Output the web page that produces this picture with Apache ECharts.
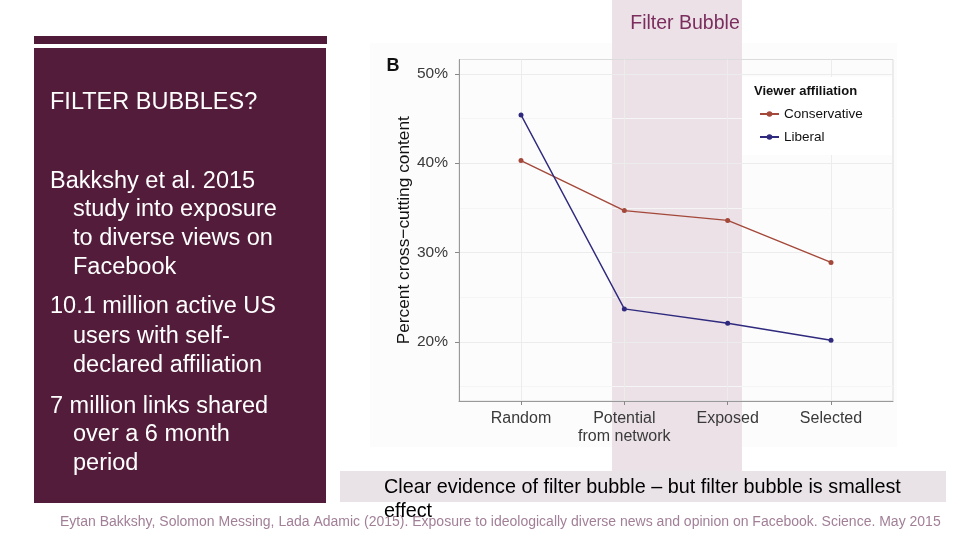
<!DOCTYPE html>
<html>
<head>
<meta charset="utf-8">
<title>Filter Bubble</title>
<script src="https://cdn.jsdelivr.net/npm/echarts@6/dist/echarts.min.js"></script>
<style>
  html, body { margin: 0; padding: 0; background: #fff; }
  #main { width: 960px; height: 540px; }
</style>
</head>
<body>
<div id="main"></div>
<script>
// categories along the x axis (ggplot panel, discrete positions 1..4)
var stages = ['Random', 'Potential\nfrom network', 'Exposed', 'Selected'];
// percent cross-cutting content
var conservative = [40.3, 34.7, 33.6, 28.9];
var liberal = [45.4, 23.7, 22.1, 20.2];
var yTicks = [20, 30, 40, 50];
var yMinor = [15, 25, 35, 45];
var xTicks = [1, 2, 3, 4];

var leftLines = [
  ['FILTER BUBBLES?', 0],
  ['Bakkshy et al. 2015', 0], ['study into exposure', 1], ['to diverse views on', 1], ['Facebook', 1],
  ['10.1 million active US', 0], ['users with self-', 1], ['declared affiliation', 1],
  ['7 million links shared', 0], ['over a 6 month', 1], ['period', 1]
];
var leftY = [103, 182, 210, 239, 268, 307, 337, 366, 407, 435, 464];

var FONT = '"Liberation Sans", Arial, Helvetica, sans-serif';

function pts(arr) {
  return arr.map(function (v, i) { return [i + 1, v]; });
}

var myChart = echarts.init(document.getElementById('main'));

var graphics = [
  // chart picture background
  {type: 'rect', z: -3, shape: {x: 370, y: 43, width: 527, height: 404}, style: {fill: '#fcfcfc'}},
  // filter bubble band
  {type: 'rect', z: -1, shape: {x: 612, y: 0, width: 130, height: 471}, style: {fill: '#ebe1e7'}},
  {type: 'text', z: 5, x: 685, y: 24, style: {text: 'Filter Bubble', font: '19.5px ' + FONT, fill: '#7b2d5e', align: 'center', verticalAlign: 'middle'}},
  // left panel
  {type: 'rect', shape: {x: 34, y: 36, width: 293, height: 8}, style: {fill: '#501b39'}},
  {type: 'rect', shape: {x: 34, y: 48, width: 292, height: 455}, style: {fill: '#521c3a'}},
  // caption box
  {type: 'rect', z: 3, shape: {x: 340, y: 471, width: 606, height: 31}, style: {fill: '#e9e2e7'}},
  {type: 'text', z: 5, x: 384, y: 488, style: {text: 'Clear evidence of filter bubble \u2013 but filter bubble is smallest', font: '19.8px ' + FONT, fill: '#000', verticalAlign: 'middle'}},
  {type: 'text', z: 5, x: 384, y: 512, style: {text: 'effect', font: '19.8px ' + FONT, fill: '#000', verticalAlign: 'middle'}},
  // citation
  {type: 'text', z: 4, x: 60, y: 522, style: {text: 'Eytan Bakkshy, Solomon Messing, Lada Adamic (2015). Exposure to ideologically diverse news and opinion on Facebook. Science. May 2015', font: '14px ' + FONT, fill: '#a17f97', verticalAlign: 'middle'}},
  // panel letter
  {type: 'text', z: 5, x: 393, y: 66, style: {text: 'B', font: 'bold 18px ' + FONT, fill: '#111', align: 'center', verticalAlign: 'middle'}},
  // legend box + title
  {type: 'rect', z: 1, shape: {x: 742, y: 77, width: 150, height: 78}, style: {fill: '#fff'}},
  {type: 'text', z: 5, x: 754, y: 91, style: {text: 'Viewer affiliation', font: 'bold 13px ' + FONT, fill: '#111', verticalAlign: 'middle'}}
];

leftLines.forEach(function (l, i) {
  graphics.push({type: 'text', z: 5, x: l[1] ? 73 : 50, y: leftY[i],
    style: {text: l[0], font: '23.5px ' + FONT, fill: '#fff', verticalAlign: 'middle'}});
});

var option = {
  animation: false,
  textStyle: {fontFamily: FONT},
  graphic: graphics,
  grid: {
    left: 459, top: 59.5, width: 434, height: 341.5,
    show: true, borderColor: '#dcdcdc', borderWidth: 1, backgroundColor: 'transparent'
  },
  legend: {
    orient: 'vertical', left: 754, top: 102, itemGap: 9,
    itemWidth: 19, itemHeight: 7,
    textStyle: {fontSize: 13.5, color: '#111', fontFamily: FONT},
    data: ['Conservative', 'Liberal']
  },
  xAxis: {
    type: 'value', min: 0.4, max: 4.6,
    axisLine: {show: true, lineStyle: {color: '#999', width: 1}},
    axisTick: {show: true, length: 4, lineStyle: {color: '#888'}, customValues: xTicks},
    axisLabel: {
      customValues: xTicks, margin: 9, fontSize: 16, color: '#3a3a3a', lineHeight: 18,
      formatter: function (v) { return stages[Math.round(v) - 1]; }
    },
    splitLine: {show: true, lineStyle: {color: '#ececec', width: 1}}
  },
  yAxis: [{
    type: 'value', min: 13.4, max: 51.6,
    name: 'Percent cross\u2212cutting content', nameLocation: 'middle', nameGap: 44,
    nameRotate: 90, nameTextStyle: {fontSize: 17.3, color: '#111'},
    axisLine: {show: true, lineStyle: {color: '#999', width: 1}},
    axisTick: {show: true, length: 4, lineStyle: {color: '#888'}, customValues: yTicks},
    axisLabel: {customValues: yTicks, margin: 11, fontSize: 15.5, color: '#3a3a3a',
      formatter: function (v) { return v + '%'; }},
    splitLine: {show: true, lineStyle: {color: '#ececec', width: 1}}
  }, {
    type: 'value', min: 13.4, max: 51.6, position: 'left',
    axisLine: {show: false}, axisLabel: {show: false},
    axisTick: {show: false, customValues: yMinor},
    splitLine: {show: true, lineStyle: {color: '#f5f5f5', width: 1}}
  }],
  series: [{
    name: 'Conservative', type: 'line', data: pts(conservative),
    symbol: 'circle', symbolSize: 5,
    itemStyle: {color: '#a4483a'}, lineStyle: {color: '#a4483a', width: 1.4}
  }, {
    name: 'Liberal', type: 'line', data: pts(liberal),
    symbol: 'circle', symbolSize: 5,
    itemStyle: {color: '#2f2a7e'}, lineStyle: {color: '#2f2a7e', width: 1.4}
  }]
};

myChart.setOption(option);
</script>
</body>
</html>
